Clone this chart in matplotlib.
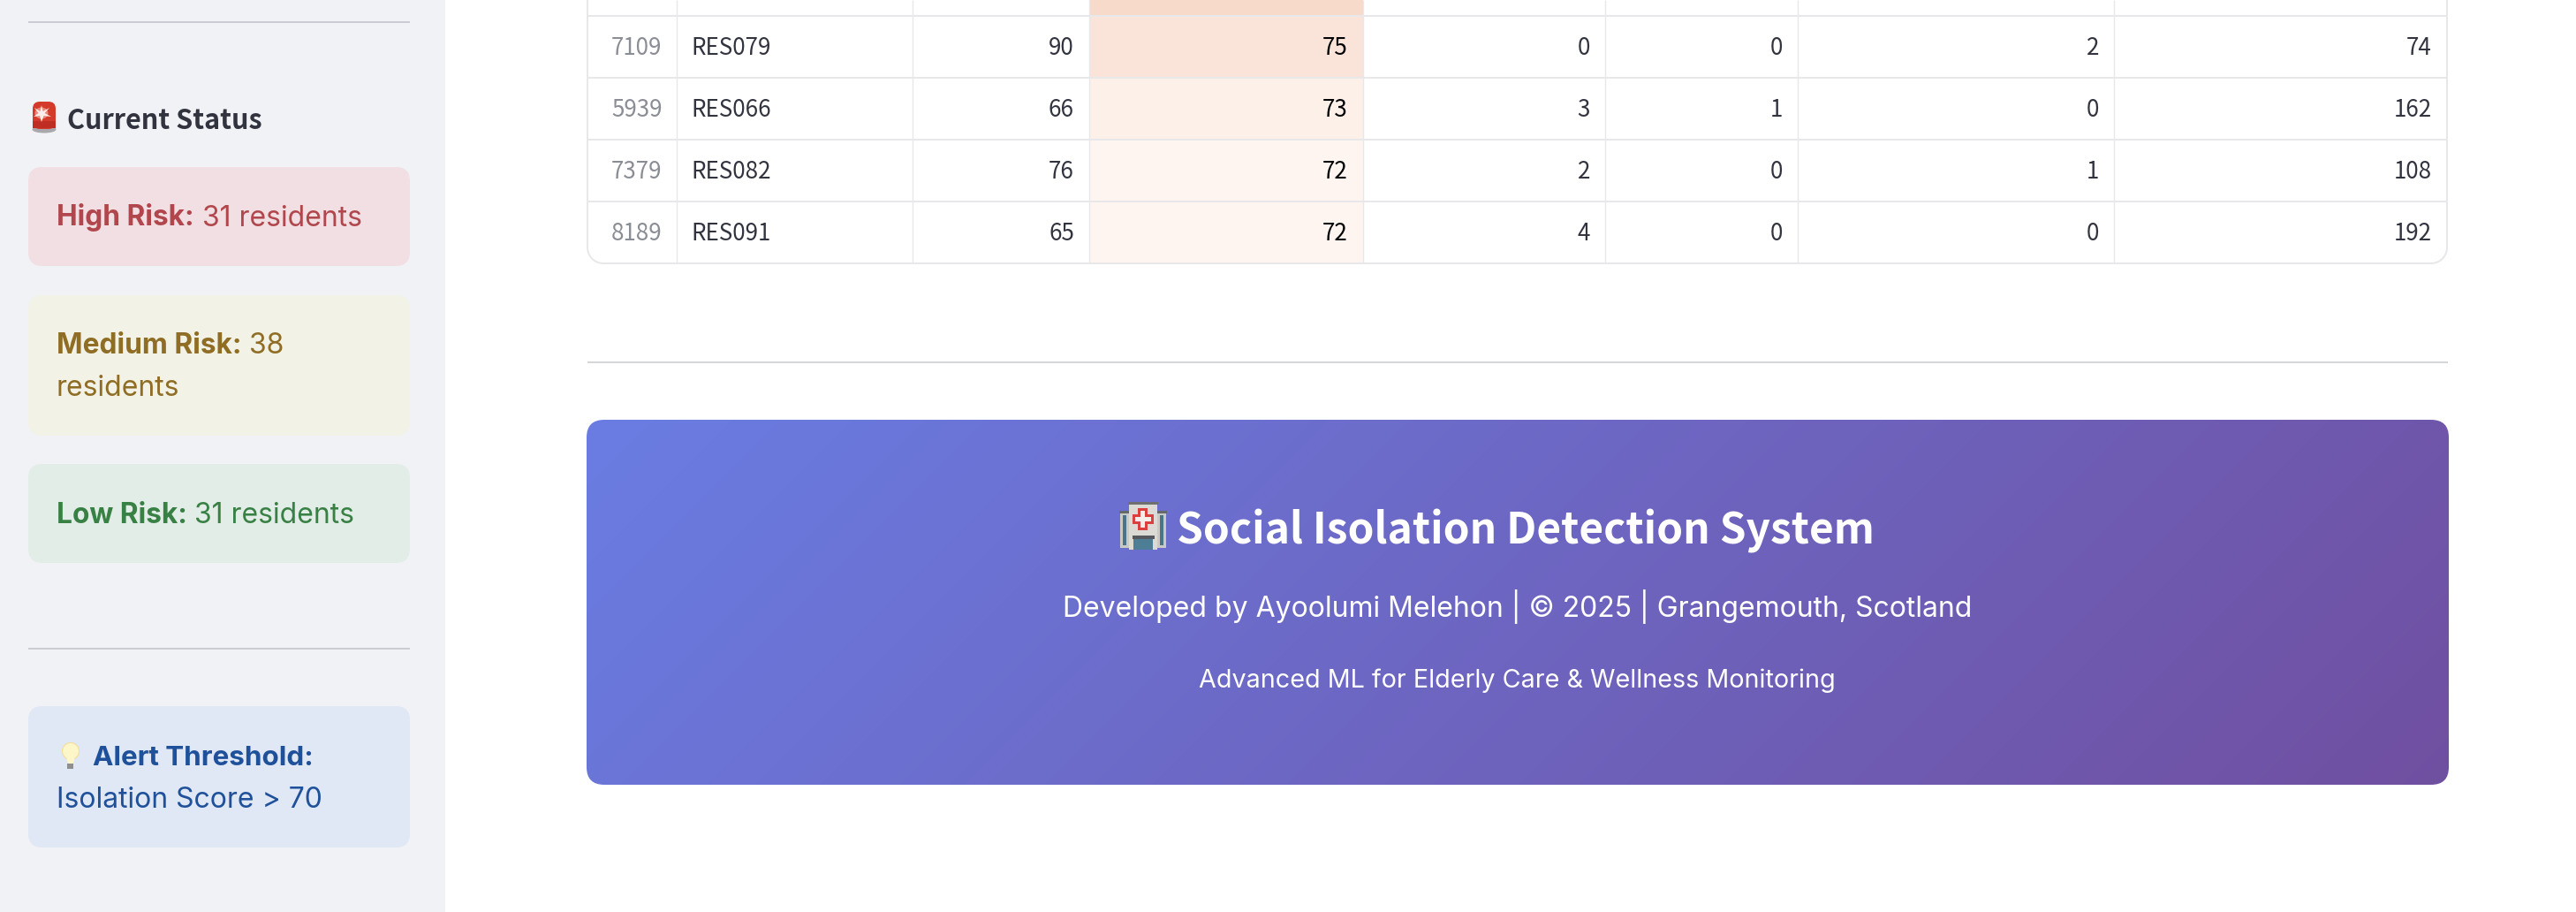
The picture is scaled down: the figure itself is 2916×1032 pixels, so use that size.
import numpy as np
import matplotlib
matplotlib.use("Agg")
import matplotlib.pyplot as plt
from matplotlib.patches import FancyBboxPatch, Rectangle, Circle, Polygon, Ellipse
from matplotlib.colors import LinearSegmentedColormap, Normalize

# ---- data -------------------------------------------------------------
row_index = ["", "7109", "5939", "7379", "8189"]
resident_ids = ["", "RES079", "RES066", "RES082", "RES091"]
col_age = ["", "90", "66", "76", "65"]
isolation_scores = [76, 75, 73, 72, 72]
col_a = ["", "0", "3", "2", "4"]
col_b = ["", "0", "1", "0", "0"]
col_c = ["", "2", "0", "1", "0"]
col_d = ["", "74", "162", "108", "192"]

status_title = "Current Status"
footer_title = "Social Isolation Detection System"
footer_line2 = "Developed by Ayoolumi Melehon | © 2025 | Grangemouth, Scotland"
footer_line3 = "Advanced ML for Elderly Care & Wellness Monitoring"

# ---- layout -----------------------------------------------------------
W, H = 2916, 1032
fig = plt.figure(figsize=(W / 100, H / 100), dpi=100, facecolor="white")
ax = fig.add_axes([0, 0, 1, 1])
ax.set_xlim(0, W)
ax.set_ylim(H, 0)
ax.axis("off")

SANS = ["Noto Sans CJK JP", "DejaVu Sans"]
INTER = ["Inter", "DejaVu Sans"]
DARK = "#31333F"
BOLD = 22.8


def box(x0, y0, x1, y1, color, r=16, z=1, ec="none", lw=0, fill=True):
    p = FancyBboxPatch((x0 + r, y0 + r), x1 - x0 - 2 * r, y1 - y0 - 2 * r,
                       boxstyle=f"round,pad={r},rounding_size={r}",
                       fc=color if fill else "none", ec=ec, lw=lw, zorder=z)
    ax.add_patch(p)
    return p


def txt(x, y, s, size, color, family=INTER, weight="normal", ha="left", z=5):
    return ax.text(x, y, s, fontsize=size, color=color, family=family,
                   weight=weight, ha=ha, va="baseline", zorder=z)


def rect(x0, y0, x1, y1, color, z=3):
    ax.add_patch(Rectangle((x0, y0), x1 - x0, y1 - y0, fc=color, ec="none", zorder=z))


# ---- sidebar ----------------------------------------------------------
rect(0, 0, 504, H, "#F0F2F6", z=0)
for yy in (24.5, 734):
    rect(32, yy - 1, 464, yy + 1, "#CBCCD3", z=1)

# siren icon
ax.add_patch(Ellipse((50, 146.5), 27, 8, fc="#A9A9AD", ec="none", zorder=3))
box(37, 115, 63, 146, "#D33A2B", r=8, z=3)
rect(37, 137, 63, 145, "#BF2E22", z=3)
ax.add_patch(Ellipse((47, 128), 15, 13, fc="#E9897C", ec="none", zorder=4))
ax.add_patch(Polygon([(47, 119), (48.5, 126), (56, 122), (50.5, 128), (58, 132), (49.5, 131),
                      (47, 138), (45, 131), (38, 132), (43.5, 128), (39, 122), (45.5, 126)],
                     fc="#FCEDEA", ec="none", zorder=5))
txt(76, 146, status_title, 22, DARK, family=SANS, weight="bold")

box(32, 189, 464, 301, "#F1DFE3")
txt(64, 255.5, "High Risk:", BOLD, "#B1474C", weight="bold")
txt(229, 255.5, "31 residents", 23, "#B1474C")

box(32, 334, 464, 493, "#F2F2E7")
txt(64, 400, "Medium Risk:", BOLD, "#8F6D24", weight="bold")
txt(282, 400, "38", 23, "#8F6D24")
txt(64, 448, "residents", 23, "#8F6D24")

box(32, 525, 464, 637, "#E3EDE7")
txt(64, 592, "Low Risk:", BOLD, "#388044", weight="bold")
txt(220, 592, "31 residents", 23, "#388044")

box(32, 799, 464, 959, "#E0E7F5")
# bulb icon
ax.add_patch(Circle((80, 850), 9.5, fc="#FDF6C8", ec="#F2DF9A", lw=0.8, zorder=3))
ax.add_patch(Polygon([(75, 856), (85, 856), (83, 864), (77, 864)], fc="#FDF6C8", ec="none", zorder=3))
rect(76.5, 864, 83.5, 869.5, "#8F8F8F")
txt(105, 866, "Alert Threshold:", 22.6, "#1F519B", weight="bold")
txt(64, 914, "Isolation Score > 70", 23, "#1F519B")

# ---- table ------------------------------------------------------------
col_edges = [665, 766, 1033, 1233, 1543, 1817, 2035, 2393, 2770]
row_h = 70
row_top = 18 - row_h
cols = [row_index, resident_ids, col_age, isolation_scores, col_a, col_b, col_c, col_d]
n_rows = len(row_index)
y_bottom = row_top + n_rows * row_h

# gradient anchors
norm = Normalize(72, 76)
cmap = LinearSegmentedColormap.from_list(
    "score", [(0, "#FEF5F0"), (0.25, "#FDF0E9"), (0.75, "#FAE3D9"), (1, "#F8DACB")])

for i, v in enumerate(isolation_scores):
    y0 = row_top + i * row_h
    rect(col_edges[3], y0, col_edges[4], y0 + row_h, cmap(norm(v)), z=1)

GRID = "#E8E8EA"
for i in range(1, n_rows):
    yy = row_top + i * row_h
    ax.plot([col_edges[0], col_edges[-1]], [yy, yy], color=GRID, lw=1.44,
            zorder=2, solid_capstyle="butt")
for xx in col_edges[1:-1]:
    ax.plot([xx, xx], [0, y_bottom], color=GRID, lw=1.0, zorder=2, solid_capstyle="butt")

# outer border with rounded lower corners
r = 18
ax.plot([col_edges[0]] * 2, [0, y_bottom - r], color=GRID, lw=1.44, zorder=3)
ax.plot([col_edges[-1]] * 2, [0, y_bottom - r], color=GRID, lw=1.44, zorder=3)
ax.plot([col_edges[0] + r, col_edges[-1] - r], [y_bottom, y_bottom], color=GRID, lw=1.44, zorder=3)
t = np.linspace(0, np.pi / 2, 20)
ax.plot(col_edges[0] + r - r * np.cos(t), y_bottom - r + r * np.sin(t), color=GRID, lw=1.44, zorder=3)
ax.plot(col_edges[-1] - r + r * np.cos(t), y_bottom - r + r * np.sin(t), color=GRID, lw=1.44, zorder=3)

TS = 18.7
for i in range(1, n_rows):
    base = row_top + i * row_h + 44
    for c, col in enumerate(cols):
        val = str(col[i])
        if c == 0:
            txt(col_edges[1] - 16.5, base, val, TS, "#8B8D95", family=SANS, ha="right")
        elif c == 1:
            txt(col_edges[1] + 16, base, val, TS, DARK, family=SANS)
        elif c == 3:
            txt(col_edges[4] - 17.5, base, val, TS, "#000000", family=SANS, ha="right")
        else:
            txt(col_edges[c + 1] - 17, base, val, TS, DARK, family=SANS, ha="right")

# divider
rect(665, 409, 2771, 411, "#D5D6D9", z=1)

# ---- footer -----------------------------------------------------------
fx0, fy0, fx1, fy1 = 664, 475, 2772, 888
fw, fh = fx1 - fx0, fy1 - fy0
xx, yy = np.meshgrid((np.arange(fw) + .5) - fw / 2, (np.arange(fh) + .5) - fh / 2)
L = (fw + fh) * np.sqrt(0.5)
tt = ((xx + yy) * np.sqrt(0.5) + L / 2) / L
c0 = np.array([0x6A, 0x7D, 0xE3]) / 255
c1 = np.array([0x70, 0x4F, 0xA0]) / 255
img = c0[None, None, :] + tt[..., None] * (c1 - c0)[None, None, :]
im = ax.imshow(img, extent=(fx0, fx1, fy1, fy0), zorder=1, interpolation="bilinear", aspect="auto")
clip = box(fx0, fy0, fx1, fy1, "none", r=20, z=0, fill=False)
im.set_clip_path(clip)
ax.set_xlim(0, W)
ax.set_ylim(H, 0)

# hospital icon
rect(1268, 580, 1320, 620, "#C9C9C6")
rect(1267, 578, 1321, 581, "#66696C", z=4)
rect(1278, 570, 1310, 622, "#DCDAD5", z=4)
rect(1277, 568, 1311, 571, "#6F6F6F", z=5)
for wx in (1271, 1313):
    rect(wx, 583, wx + 4.5, 617, "#4C7488", z=5)
rect(1288, 575, 1299, 600, "#D9403F", z=5)
rect(1282, 582, 1306, 593, "#D9403F", z=5)
rect(1291, 578, 1296, 597, "#F3EEEA", z=6)
rect(1285, 585, 1303, 590, "#F3EEEA", z=6)
rect(1283, 610, 1305, 622, "#4E7E96", z=5)
rect(1282, 606, 1307, 610, "#55595E", z=6)

txt(1726.5, 615, footer_title, 34.5, "white", family=SANS, weight="bold", ha="center")
txt(1717.5, 698, footer_line2, 23, "white", ha="center")
txt(1717.5, 778, footer_line3, 20.7, "white", ha="center")

fig.savefig("out.png", dpi=100, facecolor="white")
